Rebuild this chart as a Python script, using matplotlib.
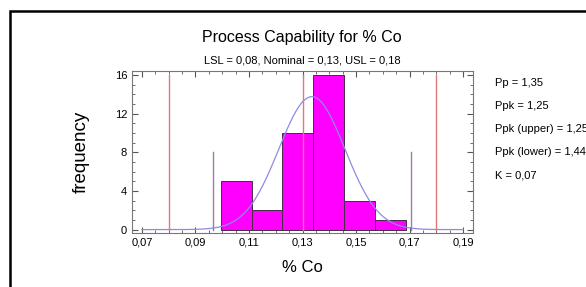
import matplotlib
matplotlib.use("Agg")
import matplotlib.pyplot as plt
from matplotlib.patches import Rectangle
from matplotlib.ticker import MultipleLocator, FuncFormatter
import numpy as np

plt.rcParams['font.family'] = ['Liberation Sans', 'DejaVu Sans']

# histogram data
bin_edges = [0.0995, 0.1110, 0.1225, 0.1340, 0.1455, 0.1570, 0.1685]
counts = [5, 2, 10, 16, 3, 1]

# specification and fitted normal
lsl, nominal, usl = 0.08, 0.13, 0.18
mu, sigma = 0.1335, 0.01235
curve_range = (0.07, 0.19)

stats_labels = ["Pp = 1,35", "Ppk = 1,25", "Ppk (upper) = 1,25",
                "Ppk (lower) = 1,44", "K = 0,07"]

fig = plt.figure(figsize=(5.86, 2.87), dpi=100)
W, H = 586, 287
ax = fig.add_axes([132 / W, 1 - 233 / H, (473 - 132) / W, (233 - 71) / H])

# outer frame
fig.patches.append(Rectangle((10 / W, -0.1), 1.2, 1 - 11 / H + 0.1,
                             transform=fig.transFigure, fill=False,
                             edgecolor='black', lw=1.8))

widths = np.diff(bin_edges)
ax.bar(bin_edges[:-1], counts, width=widths, align='edge',
       color='#ff00ff', edgecolor='#4a2a4a', lw=0.7, zorder=2)

# normal curve scaled to counts
n = sum(counts)
bw = np.mean(widths)
xs = np.linspace(curve_range[0], curve_range[1], 400)
ys = n * bw / (sigma * np.sqrt(2 * np.pi)) * np.exp(-0.5 * ((xs - mu) / sigma) ** 2)
ax.plot(xs, ys, color='#8c8ce6', lw=0.9, zorder=3)

# spec lines
for v in (lsl, nominal, usl):
    ax.plot([v, v], [0, 16], color='#e07a7a', lw=1.0, zorder=4)
# +/- 3 sigma lines
for v in (mu - 3 * sigma, mu + 3 * sigma):
    ax.plot([v, v], [0, 8], color='#a07aa8', lw=1.0, zorder=4)

ax.set_xlim(0.0663, 0.1937)
ax.set_ylim(-0.35, 16.4)
ax.xaxis.set_minor_locator(MultipleLocator(0.005))
ax.yaxis.set_major_locator(MultipleLocator(4))
ax.yaxis.set_minor_locator(MultipleLocator(1))
ax.set_xticks(np.arange(0.07, 0.1901, 0.02))
ax.xaxis.set_major_formatter(FuncFormatter(lambda v, p: f"{v:.2f}".replace('.', ',')))
ax.tick_params(which='both', direction='in', top=True, right=True,
               labelsize=8, color='#555555')
ax.tick_params(which='major', length=4)
ax.tick_params(which='minor', length=2)
for s in ax.spines.values():
    s.set_color('#777777')
    s.set_linewidth(0.8)

ax.set_xlabel('% Co', fontsize=12, labelpad=9)
ax.set_ylabel('frequency', fontsize=13.5, labelpad=18)

fig.text(302 / W, 1 - 37 / H, 'Process Capability for % Co',
         ha='center', va='center', fontsize=11.5)
fig.text(302 / W, 1 - 60 / H, 'LSL = 0,08, Nominal = 0,13, USL = 0,18',
         ha='center', va='center', fontsize=8)

for i, s in enumerate(stats_labels):
    fig.text(495 / W, 1 - (83 + 23 * i) / H, s, ha='left', va='center', fontsize=8)

fig.savefig('out.png', dpi=100)
